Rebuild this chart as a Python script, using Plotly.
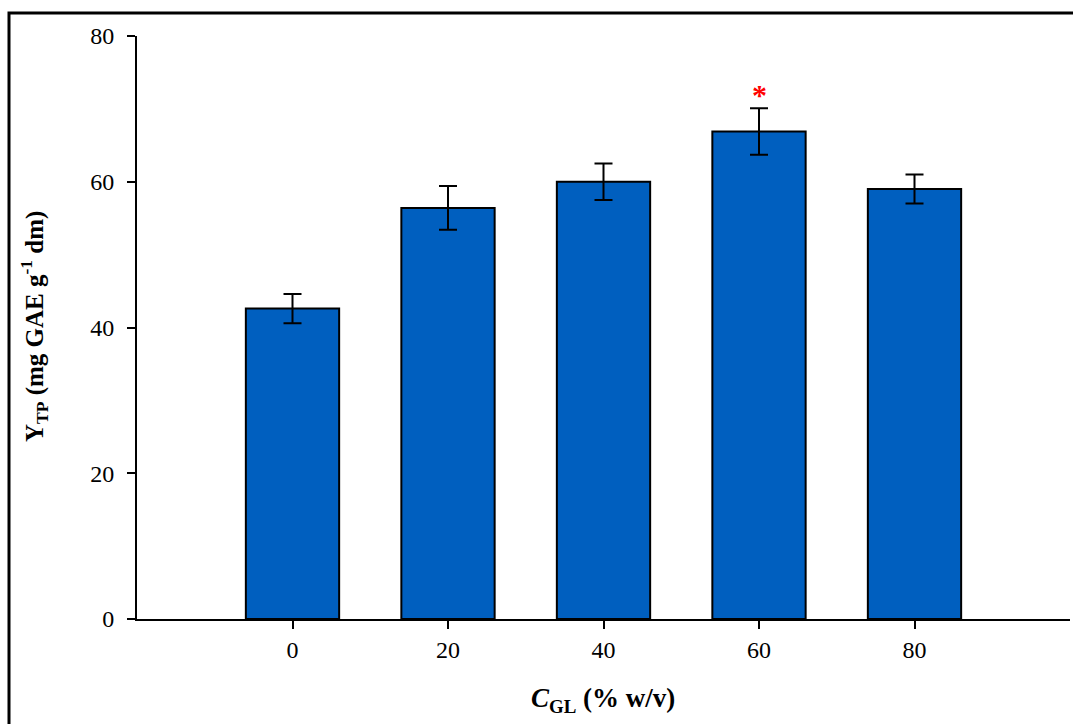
import plotly.graph_objects as go

categories = ["0", "20", "40", "60", "80"]
values = [42.6, 56.4, 60.0, 66.9, 59.0]
errors = [2.0, 3.0, 2.5, 3.2, 2.0]
y_ticks = [0, 20, 40, 60, 80]
star_category = "60"
star_y = 72.0

W, H = 1073, 724
L, R, T, B = 137, 3, 36, 105
pw, ph = W - L - R, H - T - B

font_family = "Liberation Serif, Times New Roman, serif"

fig = go.Figure()
fig.add_trace(go.Bar(
    x=categories, y=values, width=0.6,
    marker=dict(color="#005FBF", line=dict(color="black", width=2)),
    error_y=dict(type="data", array=errors, visible=True,
                 color="black", thickness=2, width=9),
    showlegend=False,
))

fig.add_annotation(x=categories.index(star_category), y=star_y, text="<b>*</b>", showarrow=False,
                   font=dict(color="red", size=30, family=font_family),
                   xref="x", yref="y", yanchor="middle")

fig.add_annotation(x=(14 - L) / pw, y=(H - B - 327) / ph, xref="paper", yref="paper",
                   text="<b>Y<sub>TP</sub> (mg GAE g<sup>-1</sup> dm)</b>",
                   textangle=-90, showarrow=False,
                   font=dict(size=25, family=font_family, color="black"))
fig.add_annotation(x=(603 - L) / pw, y=-(700 - (H - B)) / ph, xref="paper", yref="paper",
                   text="<b><i>C</i><sub>GL</sub> (% w/v)</b>",
                   showarrow=False, yanchor="middle",
                   font=dict(size=27, family=font_family, color="black"))

# outer frame
fig.add_shape(type="rect", xref="paper", yref="paper",
              x0=(9 - L) / pw, x1=1.02, y0=-(H - (H - B) + 10) / ph, y1=1 + (T - 13) / ph,
              line=dict(color="black", width=3), fillcolor="rgba(0,0,0,0)", layer="below")

fig.update_layout(
    width=W, height=H,
    margin=dict(l=L, r=R, t=T, b=B),
    plot_bgcolor="white", paper_bgcolor="white",
    font=dict(family=font_family, size=24, color="black"),
    xaxis=dict(type="category", range=[-1, 5], showline=True, linecolor="black",
               linewidth=2, ticks="outside", ticklen=8, tickwidth=2, tickcolor="black",
               showgrid=False, zeroline=False, tickfont=dict(size=24)),
    yaxis=dict(range=[0, 80], tickvals=y_ticks, showline=True, linecolor="black",
               linewidth=2, ticks="outside", ticklen=8, tickwidth=2, tickcolor="black",
               showgrid=False, zeroline=False, tickfont=dict(size=24), ticklabelstandoff=8),
)

fig.write_html("out.html")
